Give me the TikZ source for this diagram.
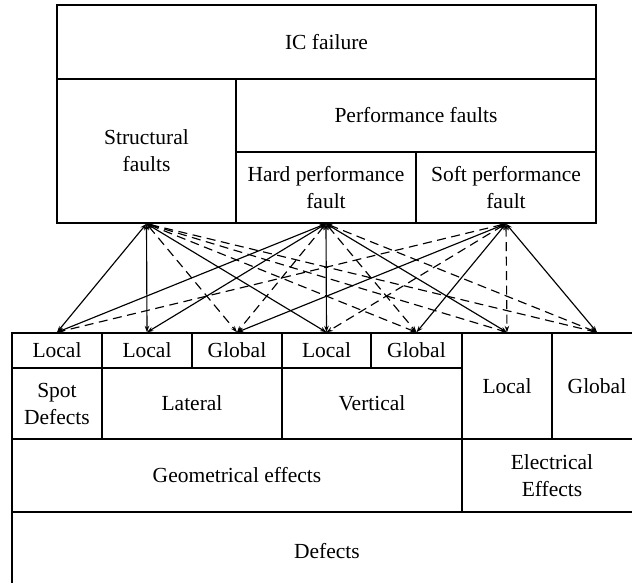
\documentclass[tikz,border=0pt]{standalone}
\usepackage{fontspec}
\setmainfont{Liberation Serif}
\usetikzlibrary{arrows.meta}
\begin{document}
\begin{tikzpicture}[x=1pt,y=-1pt,
  box/.style={draw, line width=1.4pt, inner sep=0pt, align=center,
              font=\fontsize{21.5}{27}\selectfont},
  tip/.tip={Stealth[length=6.5pt,width=4.5pt]},
  link/.style={line width=1.15pt, tip-tip},
  weak/.style={link, dash pattern=on 9pt off 5.5pt}]
\useasboundingbox (0,0) rectangle (632,582);
\begin{scope}
\clip (0,0) rectangle (632,582);
% failure classes
\node[box, minimum width=539pt, minimum height=74pt] (ic)     at (326.5,42)    {IC failure};
\node[box, minimum width=179pt, minimum height=144pt] (struct) at (146.5,151)  {Structural\\faults};
\node[box, minimum width=360pt, minimum height=73pt] (perf)   at (416,115.5)   {Performance faults};
\node[box, minimum width=180pt, minimum height=71pt] (hard)   at (326,187.5)   {Hard performance\\fault};
\node[box, minimum width=180pt, minimum height=71pt] (soft)   at (506,187.5)   {Soft performance\\fault};
% defect classes
\node[box, minimum width=90pt, minimum height=35pt]  (l1) at (57,350.5)    {Local};
\node[box, minimum width=90pt, minimum height=35pt]  (l2) at (147,350.5)   {Local};
\node[box, minimum width=90pt, minimum height=35pt]  (g2) at (237,350.5)   {Global};
\node[box, minimum width=89pt, minimum height=35pt]  (l3) at (326.5,350.5) {Local};
\node[box, minimum width=91pt, minimum height=35pt]  (g3) at (416.5,350.5) {Global};
\node[box, minimum width=90pt, minimum height=106pt] (le) at (507,386)     {Local};
\node[box, minimum width=90pt, minimum height=106pt] (ge) at (597,386)     {Global};
\node[box, minimum width=90pt, minimum height=71pt]  (spot) at (57,403.5)  {Spot\\Defects};
\node[box, minimum width=180pt, minimum height=71pt] (lat)  at (192,403.5) {Lateral};
\node[box, minimum width=180pt, minimum height=71pt] (vert) at (372,403.5) {Vertical};
\node[box, minimum width=450pt, minimum height=73pt] (geo)  at (237,475.5) {Geometrical effects};
\node[box, minimum width=180pt, minimum height=73pt] (elec) at (552,475.5) {Electrical\\Effects};
\node[box, minimum width=630pt, minimum height=78pt] (def)  at (327,551)   {Defects};
\end{scope}
% structural faults
\draw[link] (struct.south) -- (l1.north);
\draw[link] (struct.south) -- (l2.north);
\draw[weak] (struct.south) -- (g2.north);
\draw[link] (struct.south) -- (l3.north);
\draw[weak] (struct.south) -- (g3.north);
\draw[weak] (struct.south) -- (le.north);
\draw[weak] (struct.south) -- (ge.north);
% hard performance faults
\draw[link] (hard.south) -- (l1.north);
\draw[link] (hard.south) -- (l2.north);
\draw[weak] (hard.south) -- (g2.north);
\draw[link] (hard.south) -- (l3.north);
\draw[weak] (hard.south) -- (g3.north);
\draw[link] (hard.south) -- (le.north);
\draw[weak] (hard.south) -- (ge.north);
% soft performance faults
\draw[weak] (soft.south) -- (l1.north);
\draw[link] (soft.south) -- (g2.north);
\draw[weak] (soft.south) -- (l3.north);
\draw[link] (soft.south) -- (g3.north);
\draw[weak] (soft.south) -- (le.north);
\draw[link] (soft.south) -- (ge.north);
\end{tikzpicture}
\end{document}
